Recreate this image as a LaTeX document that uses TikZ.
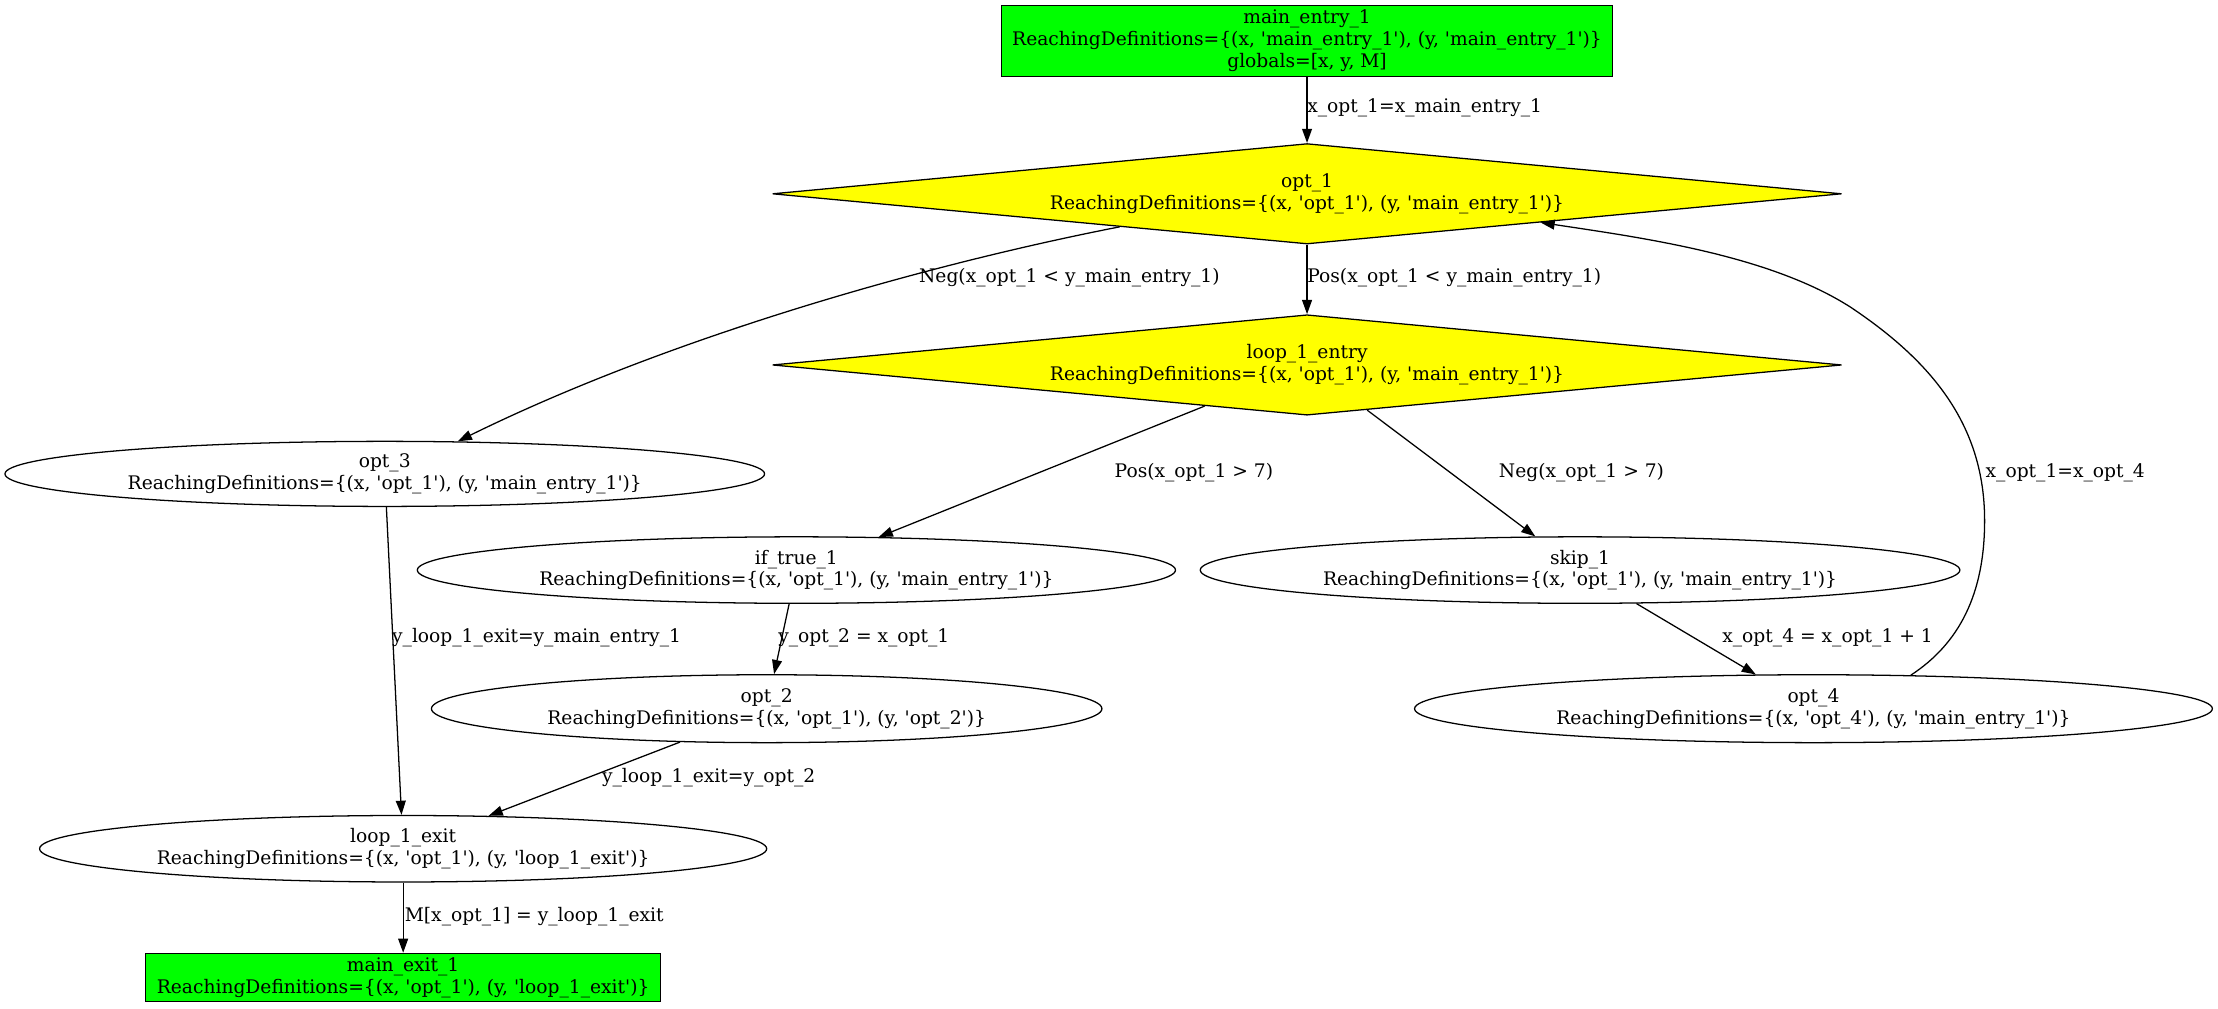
\documentclass[tikz,border=0pt]{standalone}
\usepackage{fontspec}
\newfontfamily\gv{DejaVu Serif}
\usetikzlibrary{shapes.geometric,arrows.meta}
\definecolor{gvgreen}{RGB}{0,255,0}
\definecolor{gvyellow}{RGB}{255,255,0}
\begin{document}
\begin{tikzpicture}[x=1pt,y=-1pt,
  font=\gv\fontsize{13.2}{15.5}\selectfont,
  gbox/.style={draw, fill=gvgreen, rectangle, inner sep=0pt, align=center, line width=0.9pt},
  dia/.style={draw, fill=gvyellow, diamond, aspect=10.65, inner sep=0pt, align=center,
              minimum width=756pt, minimum height=71pt, line width=0.9pt},
  ell/.style={draw, ellipse, inner sep=0pt, align=center, line width=0.9pt},
  lbl/.style={inner sep=0pt},
  arr/.style={-{Triangle[length=10pt,width=7pt]}, line width=0.9pt}]
\useasboundingbox (0,0) rectangle (1568,713);

% nodes
\node[gbox, minimum width=432pt, minimum height=50pt] (me) at (924,29)
  {main\_entry\_1\\ReachingDefinitions=\{(x, 'main\_entry\_1'), (y, 'main\_entry\_1')\}\\globals=[x, y, M]};
\node[dia] (o1) at (924,137)
  {opt\_1\\ReachingDefinitions=\{(x, 'opt\_1'), (y, 'main\_entry\_1')\}};
\node[dia] (le) at (924,258)
  {loop\_1\_entry\\ReachingDefinitions=\{(x, 'opt\_1'), (y, 'main\_entry\_1')\}};
\node[ell, minimum width=537pt, minimum height=46pt] (o3) at (272,335)
  {opt\_3\\ReachingDefinitions=\{(x, 'opt\_1'), (y, 'main\_entry\_1')\}};
\node[ell, minimum width=536pt, minimum height=47pt] (it) at (563,403)
  {if\_true\_1\\ReachingDefinitions=\{(x, 'opt\_1'), (y, 'main\_entry\_1')\}};
\node[ell, minimum width=537pt, minimum height=47pt] (sk) at (1117,403)
  {skip\_1\\ReachingDefinitions=\{(x, 'opt\_1'), (y, 'main\_entry\_1')\}};
\node[ell, minimum width=474pt, minimum height=48pt] (o2) at (542,501)
  {opt\_2\\ReachingDefinitions=\{(x, 'opt\_1'), (y, 'opt\_2')\}};
\node[ell, minimum width=564pt, minimum height=48pt] (o4) at (1282,501)
  {opt\_4\\ReachingDefinitions=\{(x, 'opt\_4'), (y, 'main\_entry\_1')\}};
\node[ell, minimum width=514pt, minimum height=47pt] (lx) at (285,600)
  {loop\_1\_exit\\ReachingDefinitions=\{(x, 'opt\_1'), (y, 'loop\_1\_exit')\}};
\node[gbox, minimum width=364pt, minimum height=34pt] (mx) at (285,691)
  {main\_exit\_1\\ReachingDefinitions=\{(x, 'opt\_1'), (y, 'loop\_1\_exit')\}};

% edges
\draw[arr] (me) -- (o1);
\draw[arr] (o1) -- (le);
\draw[arr] (o1.190) .. controls (650,188) and (470,240) .. (o3.24);
\draw[arr] (le) -- (it);
\draw[arr] (le) -- (sk);
\draw[arr] (o3) -- (lx);
\draw[arr] (it) -- (o2);
\draw[arr] (o2) -- (lx);
\draw[arr] (sk) -- (o4);
\draw[arr] (lx) -- (mx);
\draw[arr] (o4.19) .. controls (1385,455) and (1403,420) .. (1403,368)
  .. controls (1403,300) and (1365,255) .. (1308,217)
  .. controls (1250,180) and (1160,168) .. (o1.-7.5);

% edge labels
\node[lbl, anchor=west] (l1) at (924,76) {x\_opt\_1=x\_main\_entry\_1};
\node[lbl] (l2) at (756,196) {Neg(x\_opt\_1 < y\_main\_entry\_1)};
\node[lbl, anchor=west] (l3) at (924,196) {Pos(x\_opt\_1 < y\_main\_entry\_1)};
\node[lbl] (l4) at (844,334) {Pos(x\_opt\_1 > 7)};
\node[lbl] (l5) at (1118,334) {Neg(x\_opt\_1 > 7)};
\node[lbl] (l6) at (1460,334) {x\_opt\_1=x\_opt\_4};
\node[lbl, anchor=west] (l7) at (277,451) {y\_loop\_1\_exit=y\_main\_entry\_1};
\node[lbl, anchor=west] (l8) at (550,451) {y\_opt\_2 = x\_opt\_1};
\node[lbl] (l9) at (1292,451) {x\_opt\_4 = x\_opt\_1 + 1};
\node[lbl] (l10) at (501,550) {y\_loop\_1\_exit=y\_opt\_2};
\node[lbl, anchor=west] (l11) at (286,648) {M[x\_opt\_1] = y\_loop\_1\_exit};
\end{tikzpicture}
\end{document}
